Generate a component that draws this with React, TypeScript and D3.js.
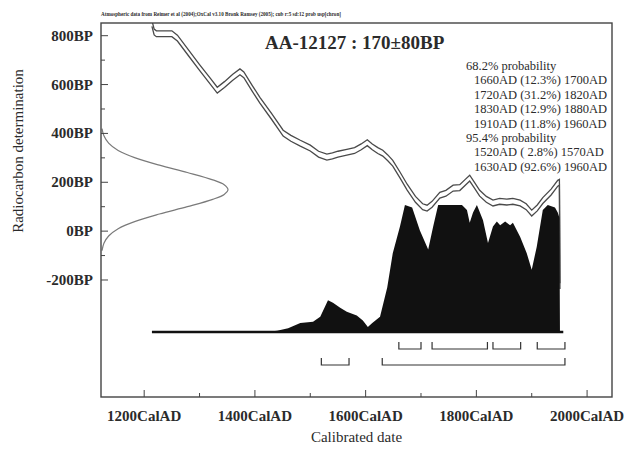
import React, { useEffect, useRef } from 'react';
import * as d3 from 'd3';

// calibration curve (IntCal04), AD year -> BP
const curveYears = [1214, 1218, 1222, 1250, 1260, 1280, 1300, 1320, 1332, 1345, 1360, 1373, 1380, 1395, 1409, 1430, 1451, 1465, 1482, 1500, 1515, 1530, 1540, 1550, 1566, 1580, 1592, 1603, 1612, 1622, 1631, 1640, 1649, 1662, 1675, 1690, 1703, 1711, 1720, 1734, 1745, 1758, 1770, 1780, 1788, 1796, 1806, 1818, 1830, 1842, 1855, 1866, 1879, 1890, 1900, 1910, 1920, 1935, 1947, 1950, 1951];
const curveBP = [850, 815, 808, 808, 790, 730, 670, 612, 577, 600, 630, 652, 640, 585, 536, 470, 401, 380, 360, 340, 315, 303, 308, 315, 323, 330, 345, 362, 345, 330, 319, 300, 278, 230, 180, 130, 100, 94, 110, 147, 155, 176, 178, 200, 217, 190, 155, 130, 115, 122, 119, 122, 115, 100, 74, 95, 125, 160, 196, 200, -225];
const curveSigma = 12;

// measured date AA-12127 : 170 +/- 80 BP, shown as the curve on the y axis
const gaussBP = [420, 390, 360, 330, 300, 270, 240, 210, 190, 170, 150, 130, 100, 70, 40, 10, -20, -50, -80];
const gaussP = [0.008, 0.023, 0.06, 0.135, 0.27, 0.46, 0.68, 0.88, 0.97, 1.0, 0.97, 0.88, 0.68, 0.46, 0.27, 0.135, 0.06, 0.023, 0.008];

// calibrated probability distribution
const distYears = [1215, 1420, 1440, 1460, 1482, 1505, 1518, 1532, 1541, 1554, 1566, 1584, 1595, 1604, 1612, 1626, 1639, 1649, 1662, 1671, 1684, 1698, 1713, 1722, 1731, 1752, 1774, 1783, 1788, 1794, 1801, 1812, 1821, 1830, 1837, 1843, 1852, 1861, 1866, 1879, 1891, 1900, 1909, 1920, 1929, 1942, 1947, 1950, 1951];
const distP = [0, 0, 0.01, 0.03, 0.07, 0.08, 0.12, 0.25, 0.23, 0.19, 0.16, 0.13, 0.09, 0.04, 0.07, 0.12, 0.35, 0.62, 0.83, 1.0, 0.98, 0.8, 0.65, 0.83, 1.0, 1.0, 1.0, 0.96, 0.86, 0.94, 1.0, 0.88, 0.7, 0.83, 0.87, 0.84, 0.87, 0.84, 0.86, 0.75, 0.62, 0.49, 0.67, 0.96, 1.0, 0.98, 0.94, 0.9, 0];
const baseStart = 1214;
const baseEnd = 1957;

// ranges
const r68Start = [1660, 1720, 1830, 1910];
const r68End = [1700, 1820, 1880, 1960];
const r68Pct = ['12.3', '31.2', '12.9', '11.8'];
const r95Start = [1520, 1630];
const r95End = [1570, 1960];
const r95Pct = [' 2.8', '92.6'];

const xMajor = [1200, 1400, 1600, 1800, 2000];
const xMinor = [1300, 1500, 1700, 1900];
const yMajor = [-200, 0, 200, 400, 600, 800];
const yMinor = [-100, 100, 300, 500, 700];

const header = 'Atmospheric data from Reimer et al (2004);OxCal v3.10 Bronk Ramsey (2005); cub r:5 sd:12 prob usp[chron]';

function App() {
  const ref = useRef<SVGSVGElement | null>(null);

  useEffect(() => {
    if (!ref.current) return;
    const svg = d3.select(ref.current);
    svg.selectAll('*').remove();

    const L = 101, R = 612, T = 23, B = 397;
    const ink = '#2b2b2b';
    const font = "'Liberation Serif', 'Times New Roman', serif";

    const x = d3.scaleLinear().domain([1122, 2045]).range([L, R]);
    const y = d3.scaleLinear().domain([-679, 852]).range([B, T]);
    const yP = d3.scaleLinear().domain([0, 1]).range([332, 205]);
    const gx = d3.scaleLinear().domain([0, 1]).range([L, 228]);

    svg.append('rect').attr('width', 626).attr('height', 449).attr('fill', '#fff');

    svg.append('defs').append('clipPath').attr('id', 'plotclip')
      .append('rect').attr('x', L).attr('y', T).attr('width', R - L).attr('height', B - T);

    const plot = svg.append('g').attr('clip-path', 'url(#plotclip)');

    // gaussian of measurement
    const gline = d3.line<number>()
      .x((_, i) => gx(gaussP[i]))
      .y((d) => y(d))
      .curve(d3.curveCatmullRom);
    plot.append('path').attr('d', gline(gaussBP)).attr('fill', 'none')
      .attr('stroke', '#7a7a7a').attr('stroke-width', 1.2);

    // calibration curve band (two lines)
    [curveSigma, -curveSigma].forEach((s) => {
      const l = d3.line<number>().x((d) => x(d)).y((_, i) => y(curveBP[i] + s));
      plot.append('path').attr('d', l(curveYears)).attr('fill', 'none')
        .attr('stroke', '#4a4a4a').attr('stroke-width', 1.3);
    });

    // probability distribution
    const area = d3.area<number>().x((d) => x(d)).y0(yP(0)).y1((_, i) => yP(distP[i]));
    plot.append('path').attr('d', area(distYears)).attr('fill', '#111');
    plot.append('line').attr('x1', x(baseStart)).attr('x2', x(baseEnd))
      .attr('y1', yP(0)).attr('y2', yP(0)).attr('stroke', '#111').attr('stroke-width', 2.5);

    // range brackets
    const bracket = (s: number[], e: number[], yy: number) => {
      s.forEach((v, i) => {
        const x0 = x(v), x1 = x(e[i]);
        svg.append('path').attr('d', `M${x0},${yy - 7}V${yy}H${x1}V${yy - 7}`)
          .attr('fill', 'none').attr('stroke', '#333').attr('stroke-width', 1.2);
      });
    };
    bracket(r68Start, r68End, 349);
    bracket(r95Start, r95End, 365);

    // frame
    svg.append('rect').attr('x', L).attr('y', T).attr('width', R - L).attr('height', B - T)
      .attr('fill', 'none').attr('stroke', '#444').attr('stroke-width', 1.4);

    // ticks (inward)
    xMajor.forEach((v) => svg.append('line').attr('x1', x(v)).attr('x2', x(v)).attr('y1', B).attr('y2', B - 7).attr('stroke', '#444'));
    xMinor.forEach((v) => svg.append('line').attr('x1', x(v)).attr('x2', x(v)).attr('y1', B).attr('y2', B - 4).attr('stroke', '#444'));
    yMajor.forEach((v) => svg.append('line').attr('x1', L).attr('x2', L + 7).attr('y1', y(v)).attr('y2', y(v)).attr('stroke', '#444'));
    yMinor.forEach((v) => svg.append('line').attr('x1', L).attr('x2', L + 4).attr('y1', y(v)).attr('y2', y(v)).attr('stroke', '#444'));

    const txt = (s: string, tx: number, ty: number, size: number, opts: any = {}) =>
      svg.append('text').attr('x', tx).attr('y', ty).attr('font-family', font)
        .attr('font-size', size).attr('fill', ink)
        .attr('font-weight', opts.bold ? 'bold' : 'normal')
        .attr('text-anchor', opts.anchor || 'start')
        .attr('transform', opts.transform || null)
        .style('white-space', 'pre')
        .text(s);

    xMajor.forEach((v) => txt(`${v}CalAD`, x(v), 421, 15, { bold: true, anchor: 'middle' }));
    yMajor.forEach((v) => txt(`${v}BP`, 93, y(v) + 5, 15, { bold: true, anchor: 'end' }));

    txt('Calibrated date', (L + R) / 2, 442, 15, { anchor: 'middle' });
    txt('Radiocarbon determination', 0, 0, 15, { anchor: 'middle', transform: 'translate(23,151) rotate(-90)' });

    txt(header, L, 16, 6, { bold: true }).attr('textLength', 240).attr('lengthAdjust', 'spacingAndGlyphs');
    txt('AA-12127 : 170\u00b180BP', 265, 49, 19, { bold: true });

    const lines: { s: string; indent: boolean }[] = [];
    lines.push({ s: '68.2% probability', indent: false });
    r68Start.forEach((v, i) => lines.push({ s: `${v}AD (${r68Pct[i]}%) ${r68End[i]}AD`, indent: true }));
    lines.push({ s: '95.4% probability', indent: false });
    r95Start.forEach((v, i) => lines.push({ s: `${v}AD (${r95Pct[i]}%) ${r95End[i]}AD`, indent: true }));
    lines.forEach((l, i) => txt(l.s, l.indent ? 474 : 466, 70 + i * 14.4, 12.5));
  }, []);

  return (
    <div style={{ position: 'absolute', left: 0, top: 0 }}>
      <svg ref={ref} width={626} height={449} style={{ display: 'block' }} />
    </div>
  );
}

export default App;
